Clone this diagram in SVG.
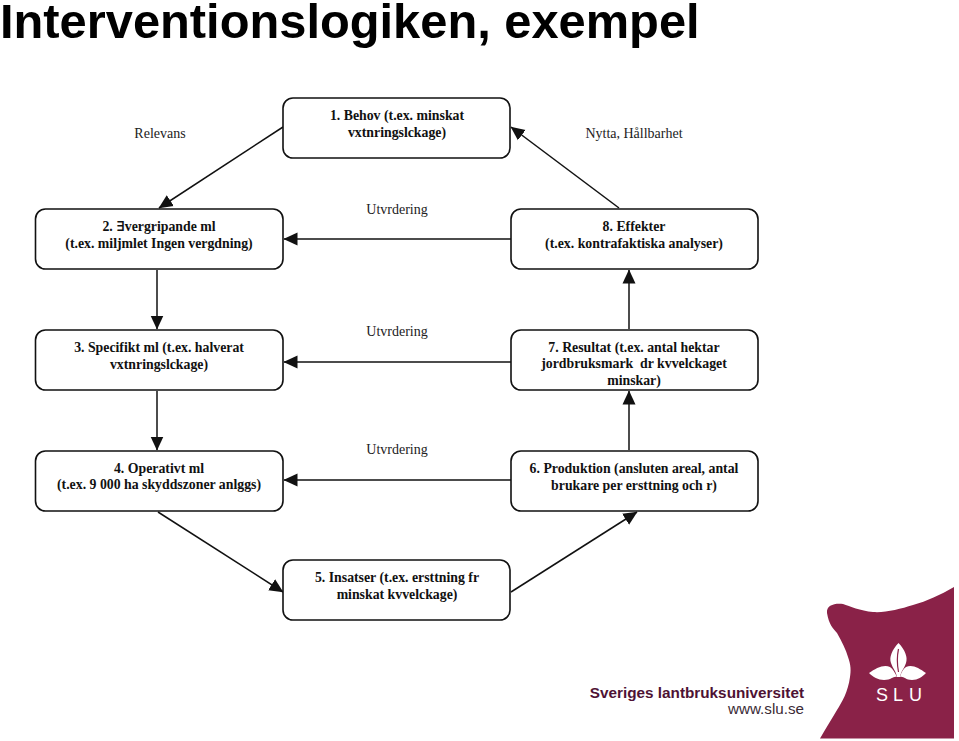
<svg xmlns="http://www.w3.org/2000/svg" width="959" height="741" viewBox="0 0 959 741">
<style>
text{font-family:"Liberation Serif","DejaVu Serif",serif;fill:#111}
.s{font-family:"Liberation Sans",Arial,sans-serif}
.b rect{fill:#fff;stroke:#111;stroke-width:1.6}
.b text{font-size:13.800px;font-weight:bold;text-anchor:middle}
.l{font-size:14px;text-anchor:middle;fill:#222}
.c line{stroke:#111;stroke-width:1.5;marker-end:url(#ah)}
</style>
<defs><marker id="ah" markerUnits="userSpaceOnUse" markerWidth="14" markerHeight="14" viewBox="0 0 14 14" refX="13.500" refY="7" orient="auto"><path d="M0,0.500L14,7L0,13.500Z" fill="#111"/></marker></defs>
<rect width="959" height="741" fill="#fff"/>
<text id="title" class="s" x="0" y="38" font-size="48.800" font-weight="bold" style="fill:#000">Interventionslogiken, exempel</text>
<text class="l" x="160" y="138">Relevans</text>
<text class="l" x="634" y="138">Nytta, Hållbarhet</text>
<text class="l" x="397" y="214">Utvrdering</text>
<text class="l" x="397" y="336">Utvrdering</text>
<text class="l" x="397" y="454">Utvrdering</text>
<g id="connectors" class="c">
<line x1="283" y1="127" x2="159" y2="208"/>
<line x1="619" y1="208" x2="511" y2="127"/>
<line x1="511" y1="239" x2="284" y2="239"/>
<line x1="511" y1="362" x2="284" y2="362"/>
<line x1="511" y1="480" x2="284" y2="480"/>
<line x1="157" y1="270" x2="157" y2="329"/>
<line x1="157" y1="391" x2="157" y2="450"/>
<line x1="629" y1="329" x2="629" y2="270"/>
<line x1="629" y1="450" x2="629" y2="391"/>
<line x1="158" y1="512" x2="283" y2="592"/>
<line x1="511" y1="592" x2="637" y2="512"/>
</g>
<g id="n1" class="b"><rect x="283" y="98" width="227" height="60" rx="10"/><text x="397" y="120">1. Behov (t.ex. minskat</text><text x="397" y="137">vxtnringslckage)</text></g>
<g id="n2" class="b"><rect x="35.500" y="209" width="247.500" height="60" rx="10"/><text x="159" y="231">2. ∃vergripande ml</text><text x="159" y="248">(t.ex. miljmlet Ingen vergdning)</text></g>
<g id="n3" class="b"><rect x="35.500" y="330" width="247.500" height="60" rx="10"/><text x="159" y="352">3. Specifikt ml (t.ex. halverat</text><text x="159" y="369">vxtnringslckage)</text></g>
<g id="n4" class="b"><rect x="35.500" y="451" width="247.500" height="60" rx="10"/><text x="159" y="473">4. Operativt ml</text><text x="159" y="489">(t.ex. 9 000 ha skyddszoner anlggs)</text></g>
<g id="n5" class="b"><rect x="283" y="560" width="227" height="60" rx="10"/><text x="397" y="582">5. Insatser (t.ex. ersttning fr</text><text x="397" y="599">minskat kvvelckage)</text></g>
<g id="n6" class="b"><rect x="511" y="451" width="247" height="60" rx="10"/><text x="634" y="473">6. Produktion (ansluten areal, antal</text><text x="634" y="490">brukare per ersttning och r)</text></g>
<g id="n7" class="b"><rect x="511" y="330" width="247" height="60" rx="10"/><text x="634" y="352">7. Resultat (t.ex. antal hektar</text><text x="634" y="368" xml:space="preserve">jordbruksmark  dr kvvelckaget</text><text x="634" y="385">minskar)</text></g>
<g id="n8" class="b"><rect x="511" y="209" width="247" height="60" rx="10"/><text x="634" y="231">8. Effekter</text><text x="634" y="248">(t.ex. kontrafaktiska analyser)</text></g>
<text class="s" x="804" y="698" text-anchor="end" font-size="15.300" font-weight="bold" style="fill:#4e1234">Sveriges lantbruksuniversitet</text>
<text class="s" x="804" y="714" text-anchor="end" font-size="15.200" style="fill:#3a2a35">www.slu.se</text>
<path d="M954,587C940,595 927,601 913,605C900,609 885,613 873,612C860,611 850,606 843,604C835,603 826,605 827,613C829,625 833,628 837,633C842,642 846,650 848,657C851,665 851,671 850,677C848,692 842,702 837,710C831,720 825,730 820,738.500H954Z" fill="#8a2248"/>
<g id="logo" fill="#fff">
<path d="M898.500,643C892,650 889,657 891,663C893,669 896,671 897,677L900,677C901,671 904,669 906,663C908,657 905,650 898.500,643Z"/>
<path d="M869,673C876,668 884,664 890,667C893,669 895,673 897,677C893,676 892,680 884,680C878,680 873,677 869,673Z"/>
<path d="M926,673C919,668 912,664 906,667C903,669 901,673 900,677C904,676 905,680 912,680C918,680 922,677 926,673Z"/>
</g>
<path d="M898.500,649C897,656 897,664 898.500,672" fill="none" stroke="#8a2248" stroke-width="1.200"/>
<text class="s" x="876 893 909" y="701" font-size="18" style="fill:#fff">SLU</text>
</svg>
